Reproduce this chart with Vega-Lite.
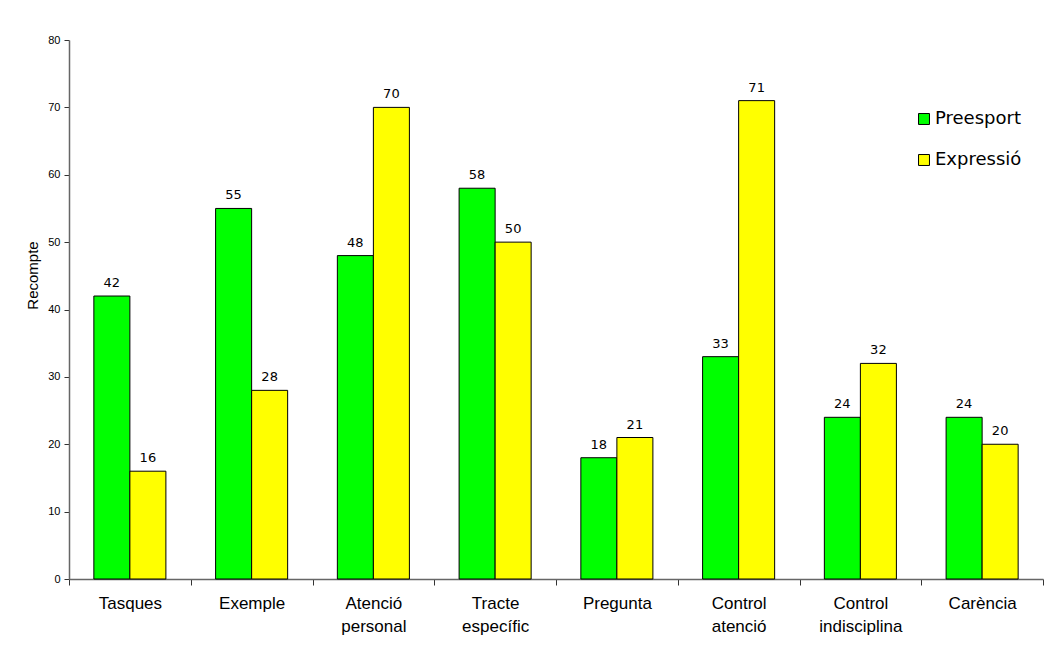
{
  "$schema": "https://vega.github.io/schema/vega-lite/v6.json",
  "width": 974,
  "height": 539,
  "autosize": "none",
  "padding": {"left": 69, "top": 40, "right": 13, "bottom": 75},
  "background": "white",
  "config": {
    "view": {"stroke": null},
    "font": "Liberation Sans",
    "axis": {"domainColor": "#666666", "tickColor": "#333333", "labelColor": "#000000", "titleColor": "#000000"}
  },
  "data": {
    "values": [
      {"categoria": "Tasques", "grup": "Preesport", "recompte": 42},
      {"categoria": "Tasques", "grup": "Expressió", "recompte": 16},
      {"categoria": "Exemple", "grup": "Preesport", "recompte": 55},
      {"categoria": "Exemple", "grup": "Expressió", "recompte": 28},
      {"categoria": "Atenció personal", "grup": "Preesport", "recompte": 48},
      {"categoria": "Atenció personal", "grup": "Expressió", "recompte": 70},
      {"categoria": "Tracte específic", "grup": "Preesport", "recompte": 58},
      {"categoria": "Tracte específic", "grup": "Expressió", "recompte": 50},
      {"categoria": "Pregunta", "grup": "Preesport", "recompte": 18},
      {"categoria": "Pregunta", "grup": "Expressió", "recompte": 21},
      {"categoria": "Control atenció", "grup": "Preesport", "recompte": 33},
      {"categoria": "Control atenció", "grup": "Expressió", "recompte": 71},
      {"categoria": "Control indisciplina", "grup": "Preesport", "recompte": 24},
      {"categoria": "Control indisciplina", "grup": "Expressió", "recompte": 32},
      {"categoria": "Carència", "grup": "Preesport", "recompte": 24},
      {"categoria": "Carència", "grup": "Expressió", "recompte": 20}
    ]
  },
  "encoding": {
    "x": {
      "field": "categoria",
      "type": "nominal",
      "sort": ["Tasques", "Exemple", "Atenció personal", "Tracte específic", "Pregunta", "Control atenció", "Control indisciplina", "Carència"],
      "scale": {"paddingInner": 0, "paddingOuter": 0},
      "axis": {
        "title": null,
        "labelAngle": 0,
        "labelExpr": "split(datum.label, ' ')",
        "labelFontSize": 17,
        "labelLineHeight": 23,
        "labelPadding": 10,
        "tickBand": "extent",
        "tickSize": 6,
        "domainWidth": 1.5
      }
    },
    "xOffset": {
      "field": "grup",
      "sort": ["Preesport", "Expressió"],
      "scale": {"paddingInner": 0, "paddingOuter": 0.69}
    },
    "y": {
      "field": "recompte",
      "type": "quantitative",
      "scale": {"domain": [0, 80], "nice": false},
      "axis": {
        "title": "Recompte",
        "titleFontSize": 15,
        "titleFontWeight": "normal",
        "titlePadding": 7,
        "titleY": 235,
        "values": [0, 10, 20, 30, 40, 50, 60, 70, 80],
        "labelFontSize": 11,
        "labelPadding": 4,
        "tickSize": 5,
        "grid": false,
        "domainWidth": 1.5
      }
    }
  },
  "layer": [
    {
      "mark": {"type": "bar", "stroke": "#000000", "strokeWidth": 1},
      "encoding": {
        "color": {
          "field": "grup",
          "type": "nominal",
          "sort": ["Preesport", "Expressió"],
          "scale": {"domain": ["Preesport", "Expressió"], "range": ["#00FF00", "#FFFF00"]},
          "legend": {
            "title": null,
            "orient": "none",
            "legendX": 846,
            "legendY": 70,
            "symbolType": "square",
            "symbolSize": 120,
            "symbolStrokeColor": "#000000",
            "symbolStrokeWidth": 1,
            "labelFont": "DejaVu Sans",
            "labelFontSize": 18,
            "labelColor": "#000000",
            "labelOffset": 2,
            "rowPadding": 23
          }
        }
      }
    },
    {
      "mark": {"type": "text", "baseline": "bottom", "dy": -6, "font": "DejaVu Sans", "fontSize": 13, "color": "#000000"},
      "encoding": {
        "text": {"field": "recompte", "type": "quantitative"}
      }
    }
  ]
}
